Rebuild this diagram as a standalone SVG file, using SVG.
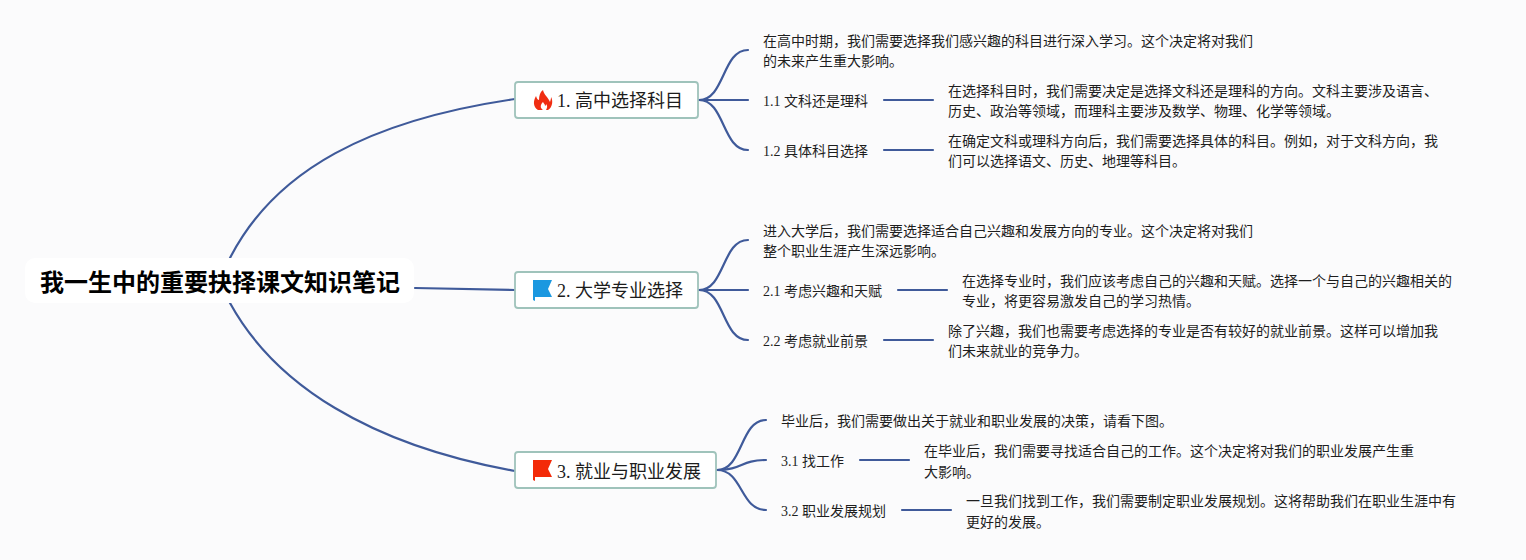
<svg xmlns="http://www.w3.org/2000/svg" width="1526" height="560" viewBox="0 0 1526 560">
<style>
text{font-family:"Liberation Serif","Noto Sans CJK SC",serif;fill:#1e1e1e}
.l{fill:none;stroke:#3f5a9a;stroke-width:2.2;stroke-linecap:round}
.n{fill:#fff;stroke:#9fc3bb;stroke-width:1.8}
.t{font-size:18px;fill:#1c1c1c}
.s{font-size:14px}
</style>
<rect width="1526" height="560" fill="#fbfbfc"/>
<g id="connectors">
<path class="l" d="M230 258C275 170 370 120 515 99"/>
<path class="l" d="M415 288L515 290"/>
<path class="l" d="M230 303C275 385 370 445 515 471"/>
<path class="l" d="M699 100C725 100 722 50 748 50"/>
<path class="l" d="M699 100H748"/>
<path class="l" d="M699 100C725 100 722 150 748 150"/>
<path class="l" d="M699 290C725 290 722 240 748 240"/>
<path class="l" d="M699 290H748"/>
<path class="l" d="M699 290C725 290 722 340 748 340"/>
<path class="l" d="M717 470C743 470 740 420 766 420"/>
<path class="l" d="M717 470C743 470 740 460 766 460"/>
<path class="l" d="M717 470C743 470 740 510 766 510"/>
<path class="l" d="M884 100H933"/>
<path class="l" d="M884 150H933"/>
<path class="l" d="M898 290H947"/>
<path class="l" d="M884 340H933"/>
<path class="l" d="M860 460H909"/>
<path class="l" d="M902 510H951"/>
</g>
<g id="root">
<rect x="25" y="258" width="389" height="45" rx="10" fill="#fff"/>
<text x="40" y="291" font-size="24" font-weight="700" style="fill:#000">我一生中的重要抉择课文知识笔记</text>
</g>
<g id="n1">
<rect class="n" x="515" y="82" width="183" height="36" rx="3"/>
<path d="M543 90C544 95 548 97 550 102C551 99 551 98 551 97C553 100 553 107 548 110H538C533 107 533 101 536 96C537 99 538 100 539 100C539 96 540 92 543 90Z" fill="#f02d12"/>
<path d="M543 110C540 108 540 105 543 102C544 104 545 104 545 106C546 105 546 105 546 104C548 106 547 108 546 110Z" fill="#fff"/>
<text class="t" x="557" y="107">1. 高中选择科目</text>
</g>
<g id="n2">
<rect class="n" x="515" y="272" width="183" height="36" rx="3"/>
<path d="M533 280H552L548 289L552 297H535V301L533 300Z" fill="#1b98e0"/>
<text class="t" x="557" y="297">2. 大学专业选择</text>
</g>
<g id="n3">
<rect class="n" x="515" y="452" width="201" height="36" rx="3"/>
<path d="M533 460H552L548 469L552 477H535V481L533 480Z" fill="#f32a08"/>
<text class="t" x="557" y="478">3. 就业与职业发展</text>
</g>
<g id="n1-0"><text class="s" x="763" y="46">在高中时期，我们需要选择我们感兴趣的科目进行深入学习。这个决定将对我们</text><text class="s" x="763" y="66">的未来产生重大影响。</text></g>
<g id="n1-1"><text class="s" x="763" y="106">1.1 文科还是理科</text></g>
<g id="n1-1-1"><text class="s" x="948" y="96">在选择科目时，我们需要决定是选择文科还是理科的方向。文科主要涉及语言、</text><text class="s" x="948" y="116">历史、政治等领域，而理科主要涉及数学、物理、化学等领域。</text></g>
<g id="n1-2"><text class="s" x="763" y="156">1.2 具体科目选择</text></g>
<g id="n1-2-1"><text class="s" x="948" y="146">在确定文科或理科方向后，我们需要选择具体的科目。例如，对于文科方向，我</text><text class="s" x="948" y="166">们可以选择语文、历史、地理等科目。</text></g>
<g id="n2-0"><text class="s" x="763" y="236">进入大学后，我们需要选择适合自己兴趣和发展方向的专业。这个决定将对我们</text><text class="s" x="763" y="256">整个职业生涯产生深远影响。</text></g>
<g id="n2-1"><text class="s" x="763" y="296">2.1 考虑兴趣和天赋</text></g>
<g id="n2-1-1"><text class="s" x="962" y="286">在选择专业时，我们应该考虑自己的兴趣和天赋。选择一个与自己的兴趣相关的</text><text class="s" x="962" y="306">专业，将更容易激发自己的学习热情。</text></g>
<g id="n2-2"><text class="s" x="763" y="346">2.2 考虑就业前景</text></g>
<g id="n2-2-1"><text class="s" x="948" y="336">除了兴趣，我们也需要考虑选择的专业是否有较好的就业前景。这样可以增加我</text><text class="s" x="948" y="356">们未来就业的竞争力。</text></g>
<g id="n3-0"><text class="s" x="781" y="426">毕业后，我们需要做出关于就业和职业发展的决策，请看下图。</text></g>
<g id="n3-1"><text class="s" x="781" y="466">3.1 找工作</text></g>
<g id="n3-1-1"><text class="s" x="924" y="456">在毕业后，我们需要寻找适合自己的工作。这个决定将对我们的职业发展产生重</text><text class="s" x="924" y="477">大影响。</text></g>
<g id="n3-2"><text class="s" x="781" y="516">3.2 职业发展规划</text></g>
<g id="n3-2-1"><text class="s" x="966" y="506">一旦我们找到工作，我们需要制定职业发展规划。这将帮助我们在职业生涯中有</text><text class="s" x="966" y="527">更好的发展。</text></g>
</svg>
